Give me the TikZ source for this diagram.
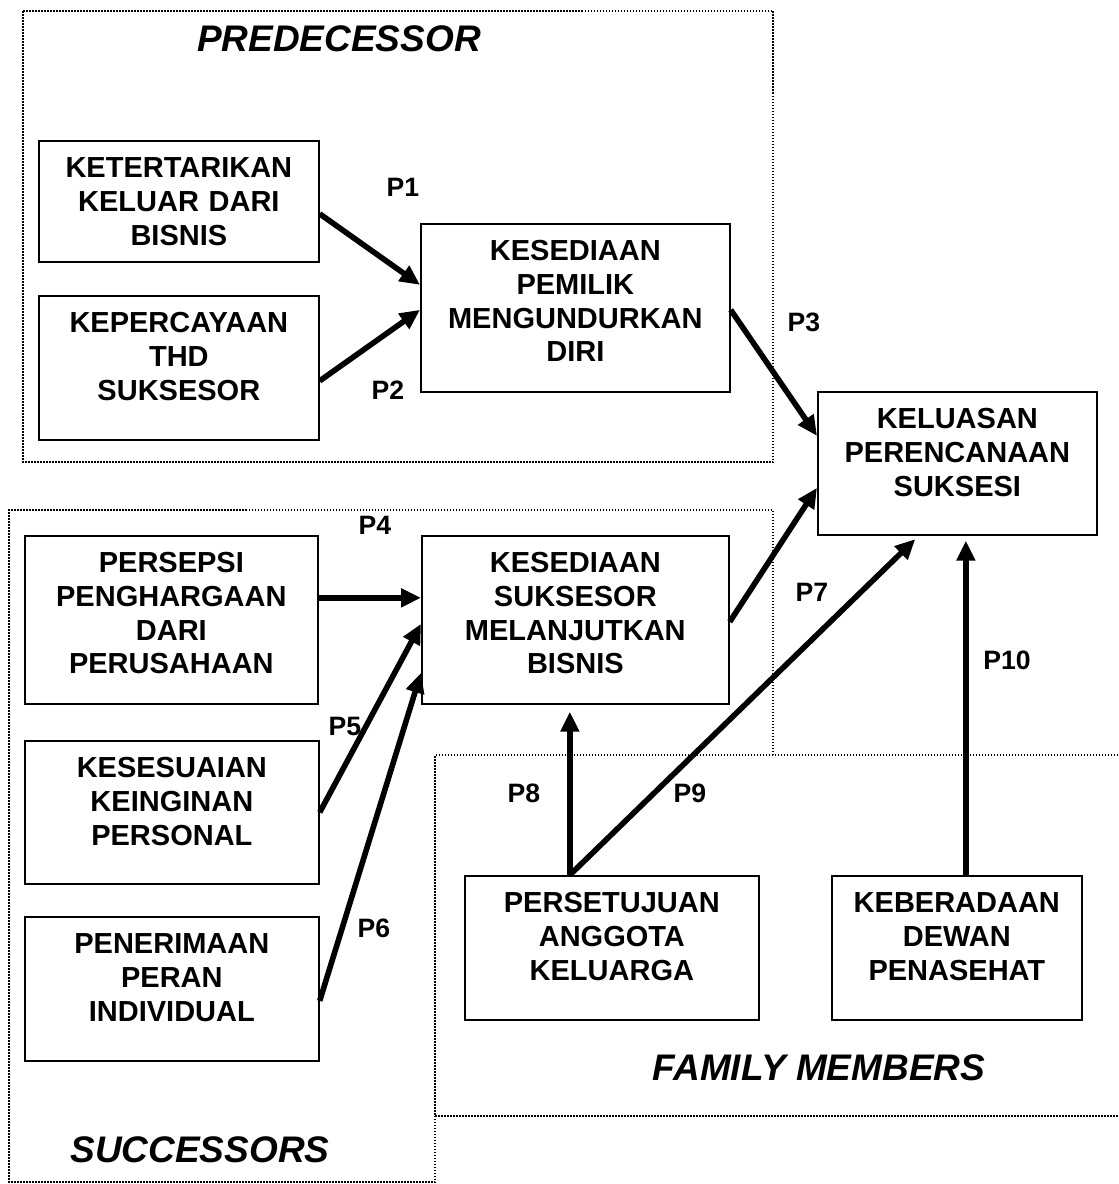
\documentclass[tikz,border=0pt]{standalone}
\usepackage{fontspec}
\setmainfont{Liberation Sans}
\usetikzlibrary{arrows.meta,calc}

\tikzset{
  konstruk/.style={draw,line width=0.85pt,anchor=north west,inner sep=0pt,align=center,
    text height=18.5pt,font=\bfseries\fontsize{14.5}{16.8}\selectfont},
  kode/.style={font=\bfseries\fontsize{13.3}{15}\selectfont},
  judul/.style={font=\bfseries\itshape\fontsize{18.5}{22}\selectfont},
  wilayah/.style={line width=0.75pt,dash pattern=on 0.75pt off 0.75pt},
  panah/.style={line width=2.8pt,-{Triangle[length=10pt,width=9pt]}}
}

\begin{document}
\begin{tikzpicture}[x=0.5pt,y=-0.5pt]
        \useasboundingbox (0,0) rectangle (1119,1184);

        % Predecessor
        \draw[wilayah] (23,11) rectangle (773,462);
        \node[judul] (jpredecessor) at (339,39) {PREDECESSOR};
        \node[konstruk,text width=140pt,text depth=42pt] (ketertarikan) at (38,140)
            {KETERTARIKAN\\KELUAR DARI\\BISNIS};
        \node[konstruk,text width=140pt,text depth=53.5pt] (kepercayaan) at (38,295)
            {KEPERCAYAAN\\THD\\SUKSESOR};
        \node[konstruk,text width=154.5pt,text depth=65.5pt] (pemilik) at (420,223)
            {KESEDIAAN\\PEMILIK\\MENGUNDURKAN\\DIRI};

        % Outcome
        \node[konstruk,text width=139.5pt,text depth=53pt] (keluasan) at (817,391)
            {KELUASAN\\PERENCANAAN\\SUKSESI};

        % Successors
        \draw[wilayah] (773,755) -- (773,510) -- (9,510) -- (9,1182) -- (435,1182) -- (435,755);
        \node[judul] (jsuccessors) at (200,1150) {SUCCESSORS};
        \node[konstruk,text width=146.5pt,text depth=65.5pt] (persepsi) at (24,535)
            {PERSEPSI\\PENGHARGAAN\\DARI\\PERUSAHAAN};
        \node[konstruk,text width=153.5pt,text depth=65.5pt] (suksesor) at (421,535)
            {KESEDIAAN\\SUKSESOR\\MELANJUTKAN\\BISNIS};
        \node[konstruk,text width=147pt,text depth=53pt] (kesesuaian) at (24,740)
            {KESESUAIAN\\KEINGINAN\\PERSONAL};
        \node[konstruk,text width=147pt,text depth=53.5pt] (penerimaan) at (24,916)
            {PENERIMAAN\\PERAN\\INDIVIDUAL};

        % Family members
        \draw[wilayah] (1121,755) -- (435,755) -- (435,1116) -- (1121,1116);
        \node[judul] (jfamily) at (819,1068) {FAMILY MEMBERS};
        \node[konstruk,text width=147pt,text depth=53.5pt] (persetujuan) at (464,875)
            {PERSETUJUAN\\ANGGOTA\\KELUARGA};
        \node[konstruk,text width=125pt,text depth=53.5pt] (keberadaan) at (831,875)
            {KEBERADAAN\\DEWAN\\PENASEHAT};

        % Paths
        \coordinate (pangkal) at ([xshift=-21pt]persetujuan.north);
        \coordinate (dewan) at ([xshift=4.5pt]keberadaan.north);
        \draw[panah] ([yshift=-6.25pt]ketertarikan.east) -- ([yshift=11.5pt]pemilik.west);
        \draw[panah] ([yshift=-6.5pt]kepercayaan.east) -- ([yshift=-1pt]pemilik.west);
        \draw[panah] ([yshift=-1pt]pemilik.east) -- ([yshift=13.75pt]keluasan.west);
        \draw[panah] ([yshift=11pt]persepsi.east) -- ([yshift=11pt]suksesor.west);
        \draw[panah] (kesesuaian.east) -- ([yshift=-2pt]suksesor.west);
        \draw[panah] ([yshift=-6pt]penerimaan.east) -- ([yshift=-26.5pt]suksesor.west);
        \draw[panah] ([yshift=-1pt]suksesor.east) -- ([yshift=-12.25pt]keluasan.west);
        \draw[panah,shorten >=3.5pt] (pangkal) -- (pangkal |- suksesor.south);
        \draw[panah,shorten >=2.5pt] (pangkal) -- ([xshift=-19.25pt]keluasan.south);
        \draw[panah,shorten >=2.5pt] (dewan) -- (dewan |- keluasan.south);

        % Path labels
        \node[kode] (p1) at (403,187) {P1};
        \node[kode] (p2) at (388,390) {P2};
        \node[kode] (p3) at (804,322) {P3};
        \node[kode] (p4) at (375,525) {P4};
        \node[kode] (p5) at (345,726) {P5};
        \node[kode] (p6) at (374,928) {P6};
        \node[kode] (p7) at (812,592) {P7};
        \node[kode] (p8) at (524,793) {P8};
        \node[kode] (p9) at (690,793) {P9};
        \node[kode] (p10) at (1007,660) {P10};
    \end{tikzpicture}
\end{document}
